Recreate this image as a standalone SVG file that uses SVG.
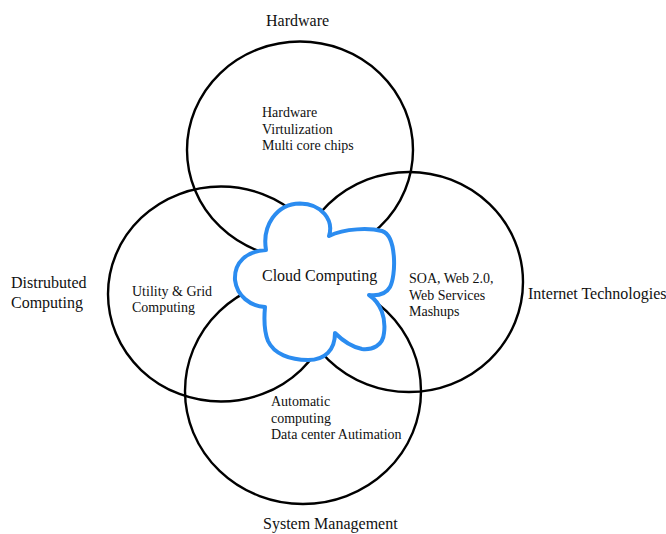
<svg xmlns="http://www.w3.org/2000/svg" width="666" height="534" viewBox="0 0 666 534">
<style>
.c{fill:none;stroke:#000;stroke-width:2.4}
.cl{fill:#fff;stroke:#2b8cf0;stroke-width:4;stroke-linejoin:round}
text{font-family:"Liberation Serif","Times New Roman",serif;fill:#111}
.big{font-size:16px}
.sm{font-size:14px}
</style>
<rect width="666" height="534" fill="#fff"/>
<g id="connectors"></g>
<g id="hardware"><ellipse class="c" cx="300" cy="150" rx="113" ry="108.5"/>
<text class="big" x="266" y="26">Hardware</text>
<text class="sm" x="262" y="117">Hardware</text>
<text class="sm" x="262" y="133.5">Virtulization</text>
<text class="sm" x="262" y="150">Multi core chips</text></g>
<g id="distributed"><ellipse class="c" cx="221" cy="294" rx="113" ry="107.5"/>
<text class="big" x="11" y="287.5">Distrubuted</text>
<text class="big" x="11" y="308">Computing</text>
<text class="sm" x="132" y="296">Utility &amp; Grid</text>
<text class="sm" x="132" y="312">Computing</text></g>
<g id="internet"><ellipse class="c" cx="409" cy="282" rx="114" ry="110"/>
<text class="big" x="528" y="299">Internet Technologies</text>
<text class="sm" x="409" y="283">SOA, Web 2.0,</text>
<text class="sm" x="409" y="299.5">Web Services</text>
<text class="sm" x="409" y="315.5">Mashups</text></g>
<g id="system"><ellipse class="c" cx="303" cy="391" rx="118" ry="113"/>
<text class="big" x="263" y="529">System Management</text>
<text class="sm" x="271" y="406">Automatic</text>
<text class="sm" x="271" y="422.5">computing</text>
<text class="sm" x="271" y="438.5">Data center Autimation</text></g>
<g id="cloud">
<path class="cl" d="M 266,250 C 262,226 276,204 300,203.5 C 322,204 334,220 329,236 C 345,228 370,228 382,231 C 397,236 396,276 390,287 C 386,294 378,296 369,295 C 381,303 386,318 384,333 C 383,346 372,350 362,349 C 352,347 343,341 335,333 C 335,350 325,360 308,360 C 290,360 274,354 268,341 C 264,331 264,318 265,307 C 250,306 237,296 235,280 C 234,262 247,251 266,250 Z"/>
<text class="big" x="262" y="281">Cloud Computing</text>
</g>
</svg>
